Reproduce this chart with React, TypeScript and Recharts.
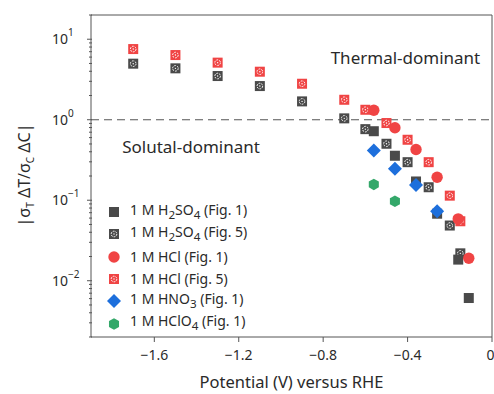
import React from 'react';
import {
  ScatterChart,
  Scatter,
  XAxis,
  YAxis,
  ReferenceLine,
  ReferenceDot,
} from 'recharts';

// values (potential in V vs RHE, ratio on log axis)
const h2so4Fig1 = [
  { x: -0.56, y: 0.72 },
  { x: -0.46, y: 0.357 },
  { x: -0.36, y: 0.171 },
  { x: -0.26, y: 0.068 },
  { x: -0.16, y: 0.0183 },
  { x: -0.11, y: 0.0061 },
];
const h2so4Fig5 = [
  { x: -1.7, y: 4.97 },
  { x: -1.5, y: 4.35 },
  { x: -1.3, y: 3.49 },
  { x: -1.1, y: 2.62 },
  { x: -0.9, y: 1.69 },
  { x: -0.7, y: 1.04 },
  { x: -0.6, y: 0.764 },
  { x: -0.5, y: 0.503 },
  { x: -0.4, y: 0.297 },
  { x: -0.3, y: 0.145 },
  { x: -0.2, y: 0.0485 },
  { x: -0.15, y: 0.0219 },
];
const hclFig1 = [
  { x: -0.56, y: 1.31 },
  { x: -0.46, y: 0.795 },
  { x: -0.36, y: 0.427 },
  { x: -0.26, y: 0.193 },
  { x: -0.16, y: 0.0587 },
  { x: -0.11, y: 0.019 },
];
const hclFig5 = [
  { x: -1.7, y: 7.55 },
  { x: -1.5, y: 6.36 },
  { x: -1.3, y: 5.12 },
  { x: -1.1, y: 3.95 },
  { x: -0.9, y: 2.8 },
  { x: -0.7, y: 1.77 },
  { x: -0.6, y: 1.33 },
  { x: -0.5, y: 0.91 },
  { x: -0.4, y: 0.564 },
  { x: -0.3, y: 0.297 },
  { x: -0.2, y: 0.114 },
  { x: -0.15, y: 0.0548 },
];
const hno3Fig1 = [
  { x: -0.56, y: 0.415 },
  { x: -0.46, y: 0.246 },
  { x: -0.36, y: 0.155 },
  { x: -0.26, y: 0.073 },
];
const hclo4Fig1 = [
  { x: -0.56, y: 0.157 },
  { x: -0.46, y: 0.0972 },
];

const xTicks = [-1.6, -1.2, -0.8, -0.4, 0];
const decades = [0.01, 0.1, 1, 10];
const yTicks = [0.002, 0.003, 0.004, 0.005, 0.006, 0.007, 0.008, 0.009]
  .concat([0.01, 0.02, 0.03, 0.04, 0.05, 0.06, 0.07, 0.08, 0.09])
  .concat([0.1, 0.2, 0.3, 0.4, 0.5, 0.6, 0.7, 0.8, 0.9])
  .concat([1, 2, 3, 4, 5, 6, 7, 8, 9])
  .concat([10, 20]);

const GRAY = '#4a4a4a';
const RED = '#f04444';
const BLUE = '#1d6fdc';
const GREEN = '#34a86a';
const AXIS = '#555';
const INK = '#2a2a2a';
const FONT = '"Noto Sans", sans-serif';

const square = (color: string) => (p: any) => (
  <rect x={p.cx - 5} y={p.cy - 5} width={10} height={10} fill={color} />
);

const crossed = (color: string) => (p: any) => (
  <g>
    <rect x={p.cx - 5} y={p.cy - 5} width={10} height={10} fill={color} />
    <circle cx={p.cx} cy={p.cy} r={2.8} fill="none" stroke="#fff" strokeWidth={1} strokeDasharray="1.8 1.1" />
    <circle cx={p.cx} cy={p.cy} r={0.7} fill="#fff" />
  </g>
);

const dot = (color: string) => (p: any) => <circle cx={p.cx} cy={p.cy} r={5.7} fill={color} />;

const diamond = (color: string) => (p: any) => (
  <path
    d={`M${p.cx},${p.cy - 7} L${p.cx + 7},${p.cy} L${p.cx},${p.cy + 7} L${p.cx - 7},${p.cy} Z`}
    fill={color}
  />
);

const hexagon = (color: string) => (p: any) => {
  const r = 5.8;
  const pts = [0, 1, 2, 3, 4, 5]
    .map((i) => {
      const a = (Math.PI / 3) * i + Math.PI / 6;
      return `${p.cx + r * Math.cos(a)},${p.cy + r * Math.sin(a)}`;
    })
    .join(' ');
  return <polygon points={pts} fill={color} />;
};

const YTick = (props: any) => {
  const { x, y, payload } = props;
  const v = payload.value;
  const major = decades.some((d) => Math.abs(d - v) / d < 1e-6);
  if (!major) {
    return <line x1={x + 6} x2={x + 9} y1={y} y2={y} stroke={AXIS} strokeWidth={1} />;
  }
  const exp = Math.round(Math.log10(v));
  return (
    <g>
      <line x1={x + 4} x2={x + 9} y1={y} y2={y} stroke={AXIS} strokeWidth={1} />
      <text x={x - 15} y={y + 5} textAnchor="end" fontSize={14} fill={INK} fontFamily={FONT}>
        10
      </text>
      <text x={x - 15} y={y - 3} textAnchor="start" fontSize={10} fill={INK} fontFamily={FONT}>
        {exp < 0 ? `\u2212${-exp}` : `${exp}`}
      </text>
    </g>
  );
};

const legendItems = [
  { shape: square(GRAY), label: (<>1 M H<sub>2</sub>SO<sub>4</sub> (Fig. 1)</>) },
  { shape: crossed(GRAY), label: (<>1 M H<sub>2</sub>SO<sub>4</sub> (Fig. 5)</>) },
  { shape: dot(RED), label: <>1 M HCl (Fig. 1)</> },
  { shape: crossed(RED), label: <>1 M HCl (Fig. 5)</> },
  { shape: diamond(BLUE), label: (<>1 M HNO<sub>3</sub> (Fig. 1)</>) },
  { shape: hexagon(GREEN), label: (<>1 M HClO<sub>4</sub> (Fig. 1)</>) },
];

export default function App() {
  return (
    <div style={{ position: 'absolute', left: 0, top: 0, width: 494, height: 394, background: '#fff', fontFamily: FONT }}>
      <ScatterChart width={494} height={394} margin={{ top: 15, right: 2, left: 0, bottom: 0 }}>
        <XAxis
          type="number"
          dataKey="x"
          domain={[-1.9, 0]}
          ticks={xTicks}
          allowDataOverflow
          stroke={AXIS}
          height={57}
          tickSize={5}
          tick={{ fontSize: 14, fill: INK, fontFamily: FONT, dy: 6 }}
          tickFormatter={(v: number) => (v === 0 ? '0' : v.toFixed(1).replace('-', '\u2212'))}
          label={{ value: 'Potential (V) versus RHE', position: 'insideBottom', offset: 6, fontSize: 16.5, fill: INK, fontFamily: FONT }}
        />
        <YAxis
          type="number"
          dataKey="y"
          scale="log"
          domain={[0.002, 20]}
          ticks={yTicks}
          interval={0}
          allowDataOverflow
          stroke={AXIS}
          width={91}
          tickLine={false}
          tick={<YTick />}
        />
        <ReferenceLine y={20} stroke={AXIS} strokeWidth={1} />
        <ReferenceLine x={0} stroke={AXIS} strokeWidth={1} />
        <ReferenceLine y={1} stroke={AXIS} strokeWidth={1.2} strokeDasharray="8 5" />
        <ReferenceDot
          x={-0.41}
          y={5.8}
          r={0}
          label={{ value: 'Thermal-dominant', position: 'center', fontSize: 17, fill: INK, fontFamily: FONT }}
        />
        <ReferenceDot
          x={-1.426}
          y={0.456}
          r={0}
          label={{ value: 'Solutal-dominant', position: 'center', fontSize: 17, fill: INK, fontFamily: FONT }}
        />
        <Scatter data={h2so4Fig5} shape={crossed(GRAY)} isAnimationActive={false} />
        <Scatter data={hclFig5} shape={crossed(RED)} isAnimationActive={false} />
        <Scatter data={h2so4Fig1} shape={square(GRAY)} isAnimationActive={false} />
        <Scatter data={hclFig1} shape={dot(RED)} isAnimationActive={false} />
        <Scatter data={hno3Fig1} shape={diamond(BLUE)} isAnimationActive={false} />
        <Scatter data={hclo4Fig1} shape={hexagon(GREEN)} isAnimationActive={false} />
      </ScatterChart>
      <div
        style={{
          position: 'absolute',
          left: 25,
          top: 175,
          transform: 'translate(-50%, -50%) rotate(-90deg)',
          fontSize: 16,
          color: INK,
          whiteSpace: 'nowrap',
        }}
      >
        |σ<sub style={{ fontSize: 10 }}>T</sub> ΔT/σ<sub style={{ fontSize: 10 }}>C</sub> ΔC|
      </div>
      <div style={{ position: 'absolute', left: 106, top: 201, fontSize: 14, color: INK }}>
        {legendItems.map((it, i) => (
          <div key={i} style={{ display: 'flex', alignItems: 'center', height: 22.3, whiteSpace: 'nowrap' }}>
            <svg width={16} height={16} style={{ marginRight: 8 }}>
              {it.shape({ cx: 8, cy: 8 })}
            </svg>
            <span style={{ lineHeight: '16px' }}>{it.label}</span>
          </div>
        ))}
      </div>
    </div>
  );
}
